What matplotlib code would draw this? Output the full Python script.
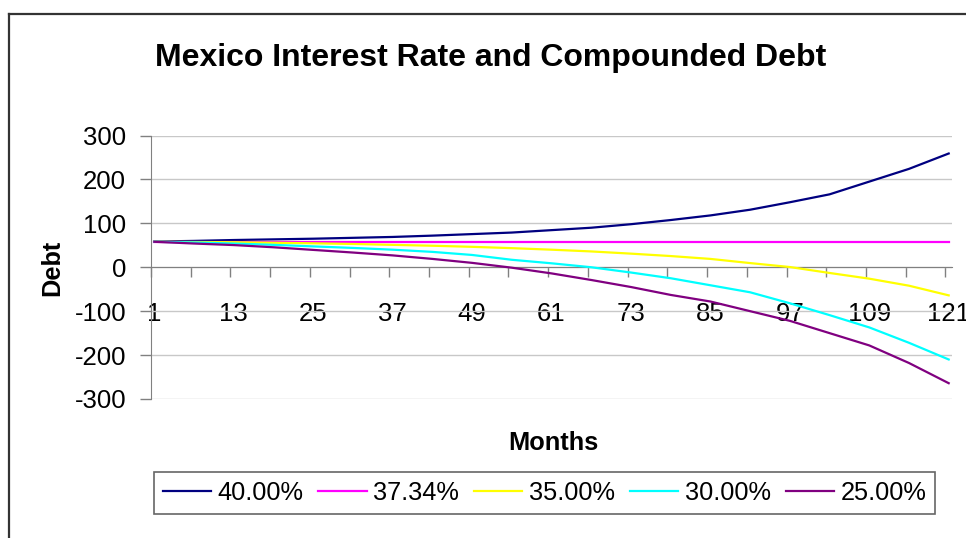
import matplotlib.pyplot as plt
from matplotlib.lines import Line2D
from matplotlib.ticker import FixedLocator, NullFormatter

plt.rcParams['font.family'] = ['Liberation Sans', 'DejaVu Sans']
plt.rcParams['axes.unicode_minus'] = False

# Debt by month for each interest rate (every 6th month)
months = [1, 7, 13, 19, 25, 31, 37, 43, 49, 55, 61, 67, 73, 79, 85, 91, 97, 103, 109, 115, 121]
debt_40 = [58.5, 60, 62, 63.5, 65, 67, 69, 72, 75.5, 79, 84.5, 90, 98, 107.5, 118, 131, 148, 166, 195, 224, 259]
debt_3734 = [58] * len(months)
debt_35 = [58, 57.5, 57, 55.8, 54.5, 53, 51, 49, 46.5, 43.5, 40, 36, 31, 25.5, 19, 9.5, 0.5, -13, -26, -42, -64]
debt_30 = [58, 56.5, 54, 51, 47.5, 44, 40, 35, 28, 17, 9, 0, -12, -25, -41, -57, -82, -109, -137, -172, -210]
debt_25 = [58, 54, 50.5, 45.5, 39.5, 33.5, 27, 19, 10, -1, -14, -29, -45, -63, -78, -100, -122, -150, -178, -218, -264]

series = [
    ('40.00%', debt_40, '#000080'),
    ('37.34%', debt_3734, '#FF00FF'),
    ('35.00%', debt_35, '#FFFF00'),
    ('30.00%', debt_30, '#00FFFF'),
    ('25.00%', debt_25, '#800080'),
]

xtick_labels = [str(m) for m in range(1, 122, 12)]
yticks = [-300, -200, -100, 0, 100, 200, 300]

fig = plt.figure(figsize=(9.66, 5.38), dpi=100)
ax = fig.add_axes([151 / 966, 139 / 538, 801 / 966, 263.5 / 538])

for name, vals, col in series:
    ax.plot(months, vals, color=col, lw=1.6, label=name, solid_joinstyle='round')

ax.set_xlim(0.5, 121.5)
ax.set_ylim(-300, 300)

# gridlines
ax.set_yticks(yticks)
ax.set_yticklabels([str(v) for v in yticks])
ax.yaxis.grid(True, color='#c8c8c8', lw=1)
ax.set_axisbelow(True)

# tick marks between categories, labels every 12 months
ax.xaxis.set_major_locator(FixedLocator([0.5 + 6 * i for i in range(21)]))
ax.xaxis.set_major_formatter(NullFormatter())
ax.xaxis.set_minor_locator(FixedLocator(list(range(1, 122, 12))))
ax.set_xticklabels(xtick_labels, minor=True)
ax.tick_params(axis='x', which='major', direction='out', length=7, width=1, color='#808080')
ax.tick_params(axis='x', which='minor', length=0, pad=25, labelsize=18.5)
ax.tick_params(axis='y', direction='out', length=8, width=1, color='#808080', pad=10, labelsize=18.5)

for s in ['top', 'right']:
    ax.spines[s].set_visible(False)
ax.spines['bottom'].set_position(('data', 0))
ax.spines['bottom'].set_color('#808080')
ax.spines['left'].set_color('#808080')
ax.spines['bottom'].set_zorder(1.5)

fig.text(490.5 / 966, 1 - 58 / 538, 'Mexico Interest Rate and Compounded Debt',
         ha='center', va='center', fontsize=23, fontweight='bold')
fig.text(553 / 966, 1 - 443 / 538, 'Months', ha='center', va='center',
         fontsize=18.3, fontweight='bold')
fig.text(52 / 966, 1 - 268 / 538, 'Debt', ha='center', va='center',
         fontsize=18.3, fontweight='bold', rotation=90)

leg = fig.legend(loc='center', bbox_to_anchor=(544.5 / 966, 1 - 493 / 538), ncol=5,
                 fontsize=18.3, frameon=True, fancybox=False, handlelength=1.9,
                 handletextpad=0.25, columnspacing=0.6, borderpad=0.35)
leg.get_frame().set_edgecolor('#404040')
leg.get_frame().set_linewidth(1.2)

# chart area border (left and top edges)
fig.add_artist(Line2D([9 / 966, 9 / 966], [0, 1 - 14 / 538], color='#333333', lw=1.6))
fig.add_artist(Line2D([9 / 966, 1], [1 - 14 / 538, 1 - 14 / 538], color='#333333', lw=1.6))

fig.savefig('out.png', dpi=100)
